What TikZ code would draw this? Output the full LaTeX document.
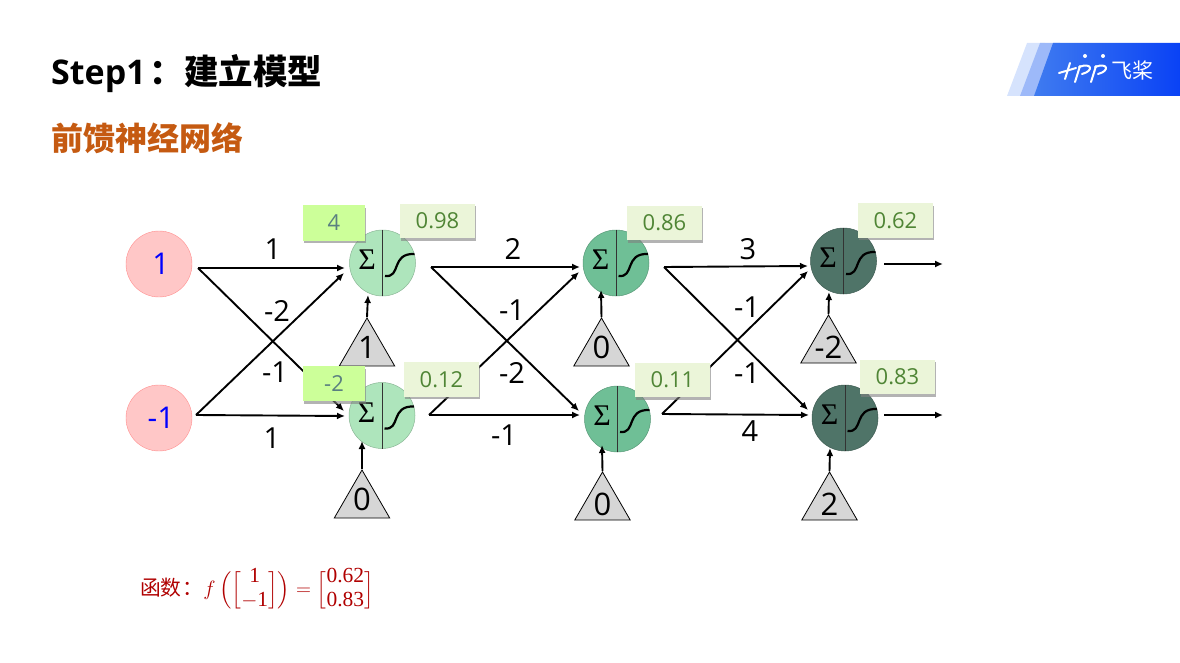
\documentclass[tikz,border=0pt]{standalone}
\usepackage{amsmath}
\usepackage{fontspec}
\setmainfont{Open Sans}
\newfontfamily\cjk{Noto Sans CJK SC}
\newfontfamily\sigmafont{Liberation Serif}
\usetikzlibrary{shapes.geometric,shadows,arrows.meta}
\newcommand{\biastext}[2]{\smash{\raisebox{#1}{\makebox[0pt]{#2}}}}
\newcommand{\numtext}[1]{\text{\fontsize{21.5}{22}\selectfont\sigmafont #1}}
\definecolor{neuronA}{HTML}{AEE5BC}
\definecolor{neuronB}{HTML}{6FBF96}
\definecolor{neuronC}{HTML}{4F7468}
\definecolor{sumfill}{HTML}{CCFF99}
\definecolor{sumtext}{HTML}{5A7F80}
\definecolor{outfill}{HTML}{EBF5D9}
\definecolor{outtext}{HTML}{4F8535}
\definecolor{titleorange}{HTML}{C55A11}
\definecolor{formulared}{HTML}{B00000}
\definecolor{logopale}{HTML}{D6E3FD}
\definecolor{logomid}{HTML}{9DB9F9}
\definecolor{logoleft}{HTML}{3F7BF0}
\definecolor{logoright}{HTML}{0A42F5}
\tikzset{
  neuron/.style={circle,draw=#1!80!black,fill=#1,line width=0.5pt,minimum size=66pt,inner sep=0pt},
  inputnode/.style={circle,draw=red!45,fill=red!22,text=blue,line width=0.4pt,minimum size=66pt,inner sep=0pt,font=\fontsize{30}{30}\selectfont,execute at begin node=\kern4pt},
  biasnode/.style={regular polygon,regular polygon sides=3,draw,fill=black!16,line width=0.8pt,minimum size=64pt,inner sep=0pt,font=\fontsize{31}{31}\selectfont},
  link/.style={-{Latex[length=8pt,width=7pt]},line width=1.9pt},
  weight/.style={font=\fontsize{29}{29}\selectfont},
  sumbox/.style={fill=sumfill,text=sumtext,minimum width=62pt,minimum height=35pt,inner sep=0pt,drop shadow={opacity=0.6,shadow xshift=1pt,shadow yshift=-2.5pt},font=\fontsize{22}{22}\selectfont},
  outbox/.style={fill=outfill,text=outtext,minimum width=75pt,minimum height=34.5pt,inner sep=0pt,drop shadow={opacity=0.6,shadow xshift=1pt,shadow yshift=-2.5pt},font=\fontsize{22}{22}\selectfont},
  logostroke/.style={draw=white,line width=2pt,line cap=round},
  pics/sigmoid/.style={code={
    \draw[line width=0.8pt,black!80] (0,-33)--(0,33);
    \node (-sig) at (-15.5,-3) {\fontsize{30}{30}\selectfont\sigmafont Σ};
    \draw[line width=2.2pt] (2.5,13) .. controls (19,15) and (8,-10) .. (32,-9);
  }}
}
\begin{document}
\begin{tikzpicture}[x=1pt,y=-1pt]
\useasboundingbox (0,0) rectangle (1180,663);

% heading
\node[anchor=base west,inner sep=0pt,font=\fontsize{34}{34}\selectfont\bfseries] (title) at (51,85) {Step1{\fontsize{34.5}{34.5}\selectfont\cjk\kern4pt：建立模型}};
\node[anchor=base west,inner sep=0pt,text=titleorange,font=\fontsize{32}{32}\selectfont\bfseries\cjk] (subtitle) at (51,151) {前馈神经网络};

% logo
\fill[logopale] (1007,96)--(1027,43)--(1045,43)--(1025,96)--cycle;
\fill[logomid] (1020,96)--(1040,43)--(1060,43)--(1040,96)--cycle;
\shade[left color=logoleft,right color=logoright] (1034,96)--(1053,43)--(1180,43)--(1180,96)--cycle;
\draw[logostroke] (1059,73)--(1076,68);
\draw[logostroke] (1070,63)--(1065,79);
\draw[logostroke] (1080,66)--(1075,82);
\draw[logostroke] (1079,67) .. controls (1092,62) and (1094,71) .. (1082,74);
\draw[logostroke] (1096,66)--(1091,82);
\draw[logostroke] (1095,67) .. controls (1108,62) and (1110,71) .. (1098,74);
\fill[white] (1085,56) circle (2);
\fill[white] (1103,56) circle (2);
\node[text=white,inner sep=0pt,font=\fontsize{21}{21}\selectfont\cjk] (logotext) at (1132,70) {飞桨};

% inputs
\node[inputnode] (a) at (159,264) {1};
\node[inputnode] (b) at (159,418) {-1};

% free ends of the connectors
\coordinate (aout) at (198,268);
\coordinate (bout) at (196,415);
\coordinate (n1out) at (431,267);
\coordinate (n2out) at (429,415);
\coordinate (n3out) at (664,267);
\coordinate (n4out) at (662,414);
\coordinate (n5out) at (884,264);
\coordinate (n6out) at (884,415);
\coordinate (n1ina) at (345,268);
\coordinate (n1inb) at (344,273);
\coordinate (n2ina) at (344,411);
\coordinate (n2inb) at (345,416);
\coordinate (n3ina) at (580,267);
\coordinate (n3inb) at (579,272);
\coordinate (n4ina) at (579,411);
\coordinate (n4inb) at (580,415);
\coordinate (n5ina) at (808,266);
\coordinate (n5inb) at (808,271);
\coordinate (n6ina) at (808,410);
\coordinate (n6inb) at (809,415);
\coordinate (y1) at (943,264);
\coordinate (y2) at (943,415);

% connectors
\draw[link] (aout)--(n1ina);
\draw[link] (aout)--(n2ina);
\draw[link] (bout)--(n1inb);
\draw[link] (bout)--(n2inb);
\draw[link] (n1out)--(n3ina);
\draw[link] (n1out)--(n4ina);
\draw[link] (n2out)--(n3inb);
\draw[link] (n2out)--(n4inb);
\draw[link] (n3out)--(n5ina);
\draw[link] (n3out)--(n6ina);
\draw[link] (n4out)--(n5inb);
\draw[link] (n4out)--(n6inb);
\draw[link] (n5out)--(y1);
\draw[link] (n6out)--(y2);

% neurons
\node[neuron=neuronA] (n1) at (382.5,263) {};
\node[neuron=neuronA] (n2) at (382,415.5) {};
\node[neuron=neuronB] (n3) at (616,263) {};
\node[neuron=neuronB] (n4) at (617.5,419) {};
\node[neuron=neuronC] (n5) at (843.5,261) {};
\node[neuron=neuronC] (n6) at (845,418) {};
\pic (n1p) at (n1) {sigmoid};
\pic (n2p) at (n2) {sigmoid};
\pic (n3p) at (n3) {sigmoid};
\pic (n4p) at (n4) {sigmoid};
\pic (n5p) at (n5) {sigmoid};
\pic (n6p) at (n6) {sigmoid};

% bias triangles
\node[biasnode] (t1) at (367,350) {\biastext{-8.5pt}{1}};
\node[biasnode] (t2) at (362,502) {\biastext{-8.5pt}{0}};
\node[biasnode] (t3) at (601.5,350) {\biastext{-8.5pt}{0}};
\node[biasnode] (t4) at (602.5,504) {\biastext{-11.5pt}{0}};
\node[biasnode] (t5) at (828.5,347) {\biastext{-11pt}{-2}};
\node[biasnode] (t6) at (829.5,504) {\biastext{-11pt}{2}};
\coordinate (n1b) at (368,295);
\coordinate (n2b) at (362,441);
\coordinate (n3b) at (601,290);
\coordinate (n4b) at (602,445);
\coordinate (n5b) at (829,292);
\coordinate (n6b) at (830,448);
\draw[link] (t1.corner 1)--(n1b);
\draw[link] (t2.corner 1)--(n2b);
\draw[link] (t3.corner 1)--(n3b);
\draw[link] (t4.corner 1)--(n4b);
\draw[link] (t5.corner 1)--(n5b);
\draw[link] (t6.corner 1)--(n6b);

% weights
\node[weight] (w1) at (273,249) {1};
\node[weight] (w2) at (277,311) {-2};
\node[weight] (w3) at (275,372) {-1};
\node[weight] (w4) at (272,438) {1};
\node[weight] (w5) at (513,249) {2};
\node[weight] (w6) at (512,310) {-1};
\node[weight] (w7) at (512,373) {-2};
\node[weight] (w8) at (504,435) {-1};
\node[weight] (w9) at (748,249) {3};
\node[weight] (w10) at (747,307) {-1};
\node[weight] (w11) at (747,373) {-1};
\node[weight] (w12) at (750,431) {4};

% values on the neurons
\node[sumbox] (s1) at (334,223) {4};
\node[sumbox] (s2) at (334,383.5) {-2};
\node[outbox] (v1) at (437.5,221) {0.98};
\node[outbox] (v2) at (441.5,379.5) {0.12};
\node[outbox] (v3) at (664.5,223) {0.86};
\node[outbox] (v4) at (672.5,380) {0.11};
\node[outbox] (v5) at (895.5,220.5) {0.62};
\node[outbox] (v6) at (897.5,377) {0.83};

% function
\node[anchor=west,inner sep=0pt,text=formulared,font=\fontsize{20.74}{24}\selectfont] (func) at (140,590) {{\cjk 函数\kern1pt：}\delimitershortfall=16pt\delimiterfactor=700 $f\left(\left[\begin{array}{@{}c@{}}\numtext{1}\\-\numtext{1}\end{array}\right]\right)=\left[\begin{array}{@{}c@{}}\numtext{0.62}\\\numtext{0.83}\end{array}\right]$};
\end{tikzpicture}
\end{document}
